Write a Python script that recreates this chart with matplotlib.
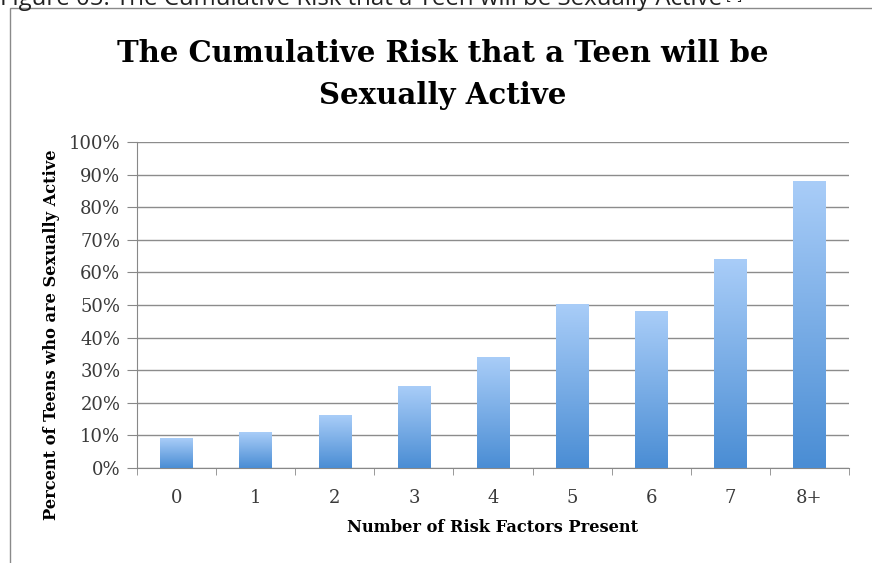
import numpy as np
import matplotlib.pyplot as plt
from matplotlib.patches import Rectangle
from matplotlib.colors import LinearSegmentedColormap

categories = ['0', '1', '2', '3', '4', '5', '6', '7', '8+']
values = [9, 11, 16, 25, 34, 50, 48, 64, 88]
yticks = [0, 10, 20, 30, 40, 50, 60, 70, 80, 90, 100]

serif = ['DejaVu Serif']
W, H = 872, 563

fig = plt.figure(figsize=(W / 100, H / 100), dpi=100)
ax = fig.add_axes([137 / W, 1 - 468 / H, 712 / W, 326 / H])

# gradient for the bars: light on top, darker at the bottom
grad = np.linspace(0, 1, 256).reshape(-1, 1)
cmap = LinearSegmentedColormap.from_list('bar', ['#4a8dd4', '#a9cdf8'])

x = np.arange(len(categories))
w = 0.41
for xi, v in zip(x, values):
    ax.imshow(grad, cmap=cmap, origin='lower', aspect='auto',
              extent=[xi - w / 2, xi + w / 2, 0, v], zorder=3)

ax.set_xlim(-0.5, len(categories) - 0.5)
ax.set_ylim(0, 100)
ax.set_yticks(yticks)
ax.set_yticklabels([f'{t}%' for t in yticks], fontsize=13, family=serif, color='#3a3a3a')
ax.set_xticks(x)
ax.set_xticklabels(categories, fontsize=13, family=serif, color='#3a3a3a')
ax.set_xticks(np.arange(-0.5, len(categories), 1), minor=True)
ax.tick_params(axis='x', which='major', length=0, pad=15)
ax.tick_params(axis='x', which='minor', length=5, color='#888888', direction='out')
ax.tick_params(axis='y', length=7, color='#888888', direction='out', pad=5)

ax.grid(axis='y', color='#8c8c8c', linewidth=1, zorder=0)
ax.set_axisbelow(True)
for s in ['top', 'right']:
    ax.spines[s].set_visible(False)
for s in ['left', 'bottom']:
    ax.spines[s].set_color('#888888')

ax.set_xlabel('Number of Risk Factors Present', fontsize=11.7, fontweight='bold',
              family=serif)
ax.xaxis.set_label_coords(0.5, -(527 - 468) / 326)
ax.xaxis.label.set_va('center')
ax.set_ylabel('Percent of Teens who are Sexually Active', fontsize=11.7,
              fontweight='bold', family=serif)
ax.yaxis.set_label_coords((52 - 137) / 712, (468 - 335) / 326)
ax.yaxis.label.set_va('center')

fig.text(443 / W, 1 - 62 / H, 'The Cumulative Risk that a Teen will be',
         ha='center', va='baseline', fontsize=21, fontweight='bold', family=serif)
fig.text(443 / W, 1 - 104 / H, 'Sexually Active',
         ha='center', va='baseline', fontsize=21, fontweight='bold', family=serif)

# clipped caption from the page above the chart
cap = fig.text(0.0, 1 - 5 / H, 'Figure 05: The Cumulative Risk that a Teen will be Sexually Active',
               ha='left', va='baseline', fontsize=17.3, family='Open Sans', color='#222222')
fig.canvas.draw()
bb = cap.get_window_extent()
fig.text(bb.x1 / W + 4 / W, 1 + 1 / H, '[6]', ha='left', va='baseline',
         fontsize=10, family='Open Sans', color='#222222')

# chart border
fig.patches.append(Rectangle((10 / W, -0.05), 1.0, 1 - 8 / H + 0.05,
                             transform=fig.transFigure, fill=False,
                             edgecolor='#8a8a8a', linewidth=1))

fig.savefig('out.png', dpi=100)
